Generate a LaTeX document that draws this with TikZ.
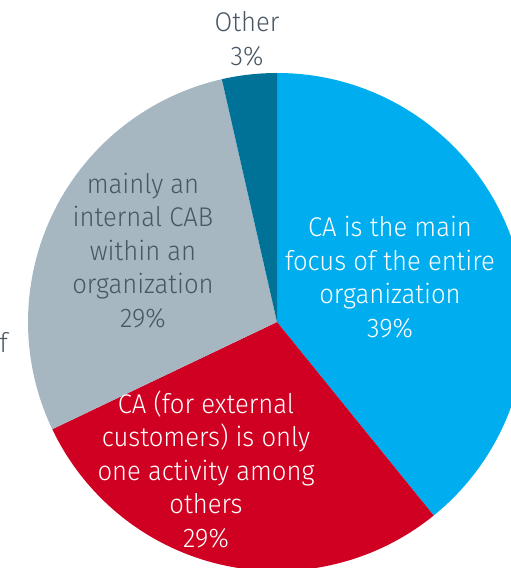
\documentclass[tikz,border=0pt]{standalone}
\usepackage{fontspec}
\setmainfont{Fira Sans Light}[FakeStretch=0.95]
\definecolor{caBlue}{RGB}{0,174,239}
\definecolor{caRed}{RGB}{208,0,34}
\definecolor{caGray}{RGB}{166,183,194}
\definecolor{caDark}{RGB}{0,114,152}
\definecolor{caText}{RGB}{72,87,99}
\begin{document}
\begin{tikzpicture}[x=1pt,y=1pt,
    slice label/.style={align=center,inner sep=0pt,anchor=base,
      font=\fontsize{27}{33.4}\selectfont},
    light label/.style={slice label,text=white},
    dark label/.style={slice label,text=caText}]

    \useasboundingbox (0,0) rectangle (511,-568);
    \clip (0,0) rectangle (511,-568);

    \coordinate (c) at (277,-322);

    % slices, clockwise from the top
    \fill[caBlue] (c) -- ++(90:249) arc[start angle=90,end angle=-51,radius=249] -- cycle;
    \fill[caRed] (c) -- ++(-51:249) arc[start angle=-51,end angle=-154.5,radius=249] -- cycle;
    \fill[caGray] (c) -- ++(-154.5:249) arc[start angle=-154.5,end angle=-257.2,radius=249] -- cycle;
    \fill[caDark] (c) -- ++(102.8:249) arc[start angle=102.8,end angle=90,radius=249] -- cycle;

    % labels (anchored at the baseline of their last line)
    \node[light label] (main) at (390,-337) {CA is the main\\focus of the entire\\organization\\39\%};
    \node[light label] (external) at (206,-547) {CA (for external\\customers) is only\\one activity among\\others\\29\%};
    \node[dark label] (internal) at (143,-327) {mainly an\\internal CAB\\within an\\organization\\29\%};
    \node[dark label] (other) at (247,-65) {Other\\3\%};
    \node[dark label,anchor=base east] (cut) at (8,-352) {f};
\end{tikzpicture}
\end{document}
